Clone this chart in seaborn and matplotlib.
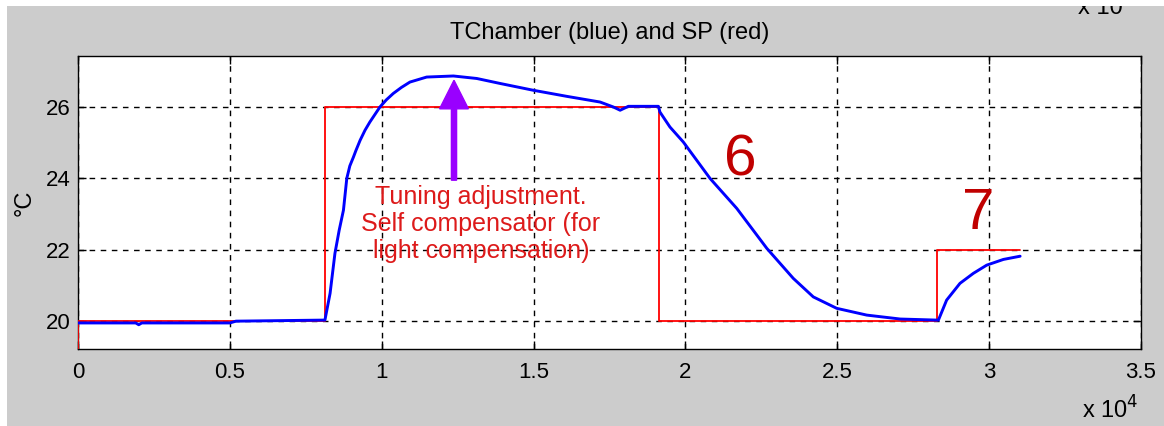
import numpy as np
import pandas as pd
import seaborn as sns
import matplotlib.pyplot as plt
from matplotlib.patches import Rectangle, FancyArrow

# --- data (time in s, temperature in degC) ---
sp_time = [0, 0, 8130, 8130, 19130, 19130, 28280, 28280, 31020]
sp_temp = [0, 20, 20, 26, 26, 20, 20, 22, 22]

tc_time = [0, 1900, 2000, 2100, 5000, 5200, 8130,
           8300, 8460, 8600, 8740, 8850, 8950, 9070, 9150, 9290, 9450, 9610, 9940,
           10150, 10380, 10650, 10930, 11480, 12360, 13130, 13900,
           14990, 16090, 17190, 17630, 17850, 18120, 19110,
           19160, 19490, 19930, 20810, 21690, 22680, 23550,
           24210, 24980, 25970, 27070, 28270,
           28330, 28600, 29040, 29480, 29920, 30470, 31020]
tc_temp = [19.95, 19.95, 19.9, 19.95, 19.95, 20.0, 20.03,
           20.78, 21.9, 22.55, 23.11, 24.0, 24.35, 24.6, 24.78, 25.07, 25.35, 25.58, 26.0,
           26.2, 26.38, 26.55, 26.7, 26.84, 26.87, 26.8, 26.66,
           26.47, 26.3, 26.14, 26.0, 25.91, 26.02, 26.02,
           25.86, 25.44, 25.02, 24.0, 23.16, 22.04, 21.2,
           20.68, 20.36, 20.17, 20.06, 20.03,
           20.03, 20.59, 21.06, 21.34, 21.57, 21.73, 21.82]

xticks = [0, 5000, 10000, 15000, 20000, 25000, 30000, 35000]
xtick_labels = ["0", "0.5", "1", "1.5", "2", "2.5", "3", "3.5"]
yticks = [20, 22, 24, 26]

sp = pd.DataFrame({"t": sp_time, "T": sp_temp})
tc = pd.DataFrame({"t": tc_time, "T": tc_temp})

sns.set_theme(style="ticks")
plt.rcParams['font.family'] = ['Liberation Sans', 'DejaVu Sans']
plt.rcParams['text.color'] = 'black'
plt.rcParams['axes.labelcolor'] = 'black'

fig = plt.figure(figsize=(11.64, 4.26), dpi=100, facecolor="#cccccc")
# thin white strips along top and left edge of the screenshot
fig.patches.append(Rectangle((0, 1 - 6 / 426), 1, 6 / 426, transform=fig.transFigure,
                             facecolor="white", edgecolor="none", zorder=10))
fig.patches.append(Rectangle((0, 0), 7 / 1164, 1, transform=fig.transFigure,
                             facecolor="white", edgecolor="none", zorder=10))

ax = fig.add_axes([78 / 1164, 1 - 349 / 426, (1141 - 78) / 1164, (349 - 56) / 426])
ax.set_facecolor("white")

sns.lineplot(data=sp, x="t", y="T", sort=False, estimator=None, color="red",
             linewidth=1.3, ax=ax, zorder=3)
sns.lineplot(data=tc, x="t", y="T", sort=False, estimator=None, color="blue",
             linewidth=2.1, ax=ax, zorder=4)

ax.set_xlim(0, 35000)
ax.set_ylim(19.22, 27.43)
ax.set_xticks(xticks)
ax.set_xticklabels(xtick_labels)
ax.set_yticks(yticks)
ax.tick_params(direction="in", length=6, width=1, top=True, right=True,
               labelsize=16, colors="black")
ax.tick_params(axis="x", pad=9)
ax.tick_params(axis="y", pad=5)
ax.grid(True, color="black", linestyle=(0, (4, 4)), linewidth=1)
for s in ax.spines.values():
    s.set_color("black")
    s.set_linewidth(1)

ax.set_xlabel("")
ax.set_ylabel("°C", fontsize=17, labelpad=8, color="black")
ax.set_title("TChamber (blue) and SP (red)", fontsize=17, pad=12, color="black")

# annotation arrow and text
ax.add_patch(FancyArrow(12380, 23.95, 0, 2.8, width=170, head_width=950,
                        head_length=0.8, length_includes_head=True,
                        color="#9900ff", zorder=5))
ax.text(13270, 22.72, "Tuning adjustment.\nSelf compensator (for\nlight compensation)",
        ha="center", va="center", fontsize=18, color="#dd1a1a",
        linespacing=1.15, zorder=6)
ax.text(21800, 24.5, "6", ha="center", va="center", fontsize=42, color="#c00000")
ax.text(29650, 23.0, "7", ha="center", va="center", fontsize=42, color="#c00000")

fig.text(1082 / 1164, 1 - 419 / 426, r"x 10$^{4}$", fontsize=17, ha="left", va="baseline")
# exponent label of a panel above, cut off by the screenshot edge
fig.text(1078 / 1164, 1 - 14 / 426, "x 10", fontsize=17, ha="left", va="baseline")

fig.savefig("out.png", dpi=100, facecolor=fig.get_facecolor())
